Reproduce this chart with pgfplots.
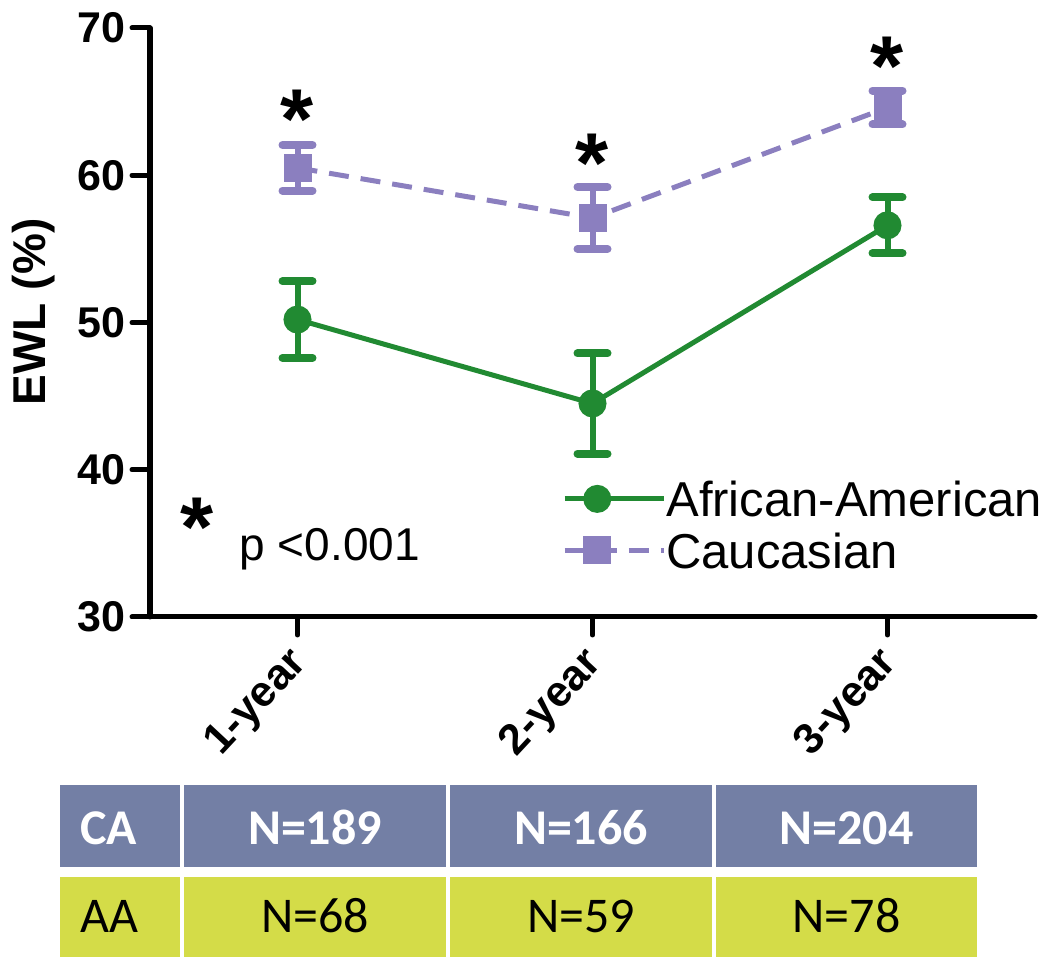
\documentclass[border=0pt]{standalone}
\usepackage{fontspec}
\setmainfont{Liberation Sans}
\newfontfamily\carlito{Carlito}
\usepackage{pgfplots}
\pgfplotsset{compat=1.18}
\definecolor{aagreen}{HTML}{218A32}
\definecolor{capurple}{HTML}{8B7FBF}
\definecolor{cablue}{HTML}{737FA5}
\definecolor{aayellow}{HTML}{D4DC48}
\begin{document}
\begin{tikzpicture}
\useasboundingbox (0pt,0pt) rectangle (1050pt,968pt);
\begin{axis}[
  at={(150pt,351pt)}, anchor=south west,
  scale only axis, width=885pt, height=589pt,
  xmin=0.5, xmax=3.5, ymin=30, ymax=70,
  clip=false,
  axis x line*=bottom, axis y line*=left,
  axis line style={line width=5pt, line cap=round, -},
  xtick={1,2,3}, xticklabels={1-year,2-year,3-year},
  ytick={30,40,50,60,70},
  tick align=outside, major tick length=18pt,
  tick style={line width=5pt, black, line cap=round},
  /pgf/number format/assume math mode=true,
  yticklabel style={font=\bfseries\fontsize{43}{43}\selectfont, inner sep=0pt, xshift=-6pt},
  xticklabel style={font=\bfseries\fontsize{43}{43}\selectfont, xshift=3pt, yshift=-22pt, rotate=47, anchor=east, inner sep=0pt},
  ylabel={EWL (\%)},
  ylabel style={font=\bfseries\fontsize{46}{46}\selectfont, at={(axis description cs:-0.132,0.518)}, anchor=center},
  legend style={at={(axis cs:1.897,39.24)}, anchor=north west, draw=none, fill=none,
     font=\fontsize{49}{49}\selectfont, inner sep=0pt, row sep=16pt,
     nodes={inner sep=0pt, anchor=west, text depth=0pt}},
  legend cell align=left,
  legend image code/.code={
     \draw[mark repeat=2,mark phase=2,#1] plot coordinates {(0pt,0pt) (32.5pt,0pt) (65pt,0pt)};
     \path (0pt,0pt) -- (99pt,0pt);
  },
]
\addplot[aagreen, line width=5pt, mark=*, mark size=11.5pt, mark options={fill=aagreen, solid},
  error bars/.cd, y dir=both, y explicit,
  error bar style={line width=6pt, aagreen, solid},
  error mark options={rotate=90, mark size=15pt, line width=8pt, line cap=round, aagreen}]
  coordinates {(1,50.2) +- (0,2.6) (2,44.5) +- (0,3.4) (3,56.6) +- (0,1.9)};
\addlegendentry{African-American}
\addplot[capurple, line width=5pt, dash pattern=on 20pt off 12pt, mark=square*, mark size=11.5pt, mark options={fill=capurple, solid},
  error bars/.cd, y dir=both, y explicit,
  error bar style={line width=6pt, capurple, solid},
  error mark options={rotate=90, mark size=15pt, line width=8pt, line cap=round, capurple}]
  coordinates {(1,60.5) +- (0,1.55) (2,57.1) +- (0,2.1) (3,64.6) +- (0,1.15)};
\addlegendentry{Caucasian}
\tikzset{star/.style={font=\bfseries\fontsize{85}{85}\selectfont, inner sep=0pt, yshift=-12pt}}
\node[star] at (axis cs:1,64.6) {*};
\node[star] at (axis cs:2,61.6) {*};
\node[star] at (axis cs:3,68.2) {*};
\node[star] at (axis cs:0.659,36.93) {*};
\node[anchor=base west, inner sep=0pt, font=\fontsize{46}{46}\selectfont] at (axis cs:0.803,33.87) {p <0.001};
\end{axis}
% table
\begin{scope}[x=1pt,y=1pt]
\fill[cablue] (60,101) rectangle (180,183);
\fill[cablue] (184,101) rectangle (446,183);
\fill[cablue] (450,101) rectangle (712,183);
\fill[cablue] (716,101) rectangle (977,183);
\fill[aayellow] (60,11) rectangle (180,91);
\fill[aayellow] (184,11) rectangle (446,91);
\fill[aayellow] (450,11) rectangle (712,91);
\fill[aayellow] (716,11) rectangle (977,91);
\begin{scope}[every node/.style={inner sep=0pt}]
\node[anchor=base west, text=white, font=\carlito\bfseries\fontsize{50}{50}\selectfont] at (80,123) {CA};
\node[anchor=base, text=white, font=\carlito\bfseries\fontsize{50}{50}\selectfont] at (315,123) {N=189};
\node[anchor=base, text=white, font=\carlito\bfseries\fontsize{50}{50}\selectfont] at (581,123) {N=166};
\node[anchor=base, text=white, font=\carlito\bfseries\fontsize{50}{50}\selectfont] at (846.5,123) {N=204};
\node[anchor=base west, text=black, font=\carlito\fontsize{50}{50}\selectfont] at (80,35) {AA};
\node[anchor=base, text=black, font=\carlito\fontsize{50}{50}\selectfont] at (315,35) {N=68};
\node[anchor=base, text=black, font=\carlito\fontsize{50}{50}\selectfont] at (581,35) {N=59};
\node[anchor=base, text=black, font=\carlito\fontsize{50}{50}\selectfont] at (846.5,35) {N=78};
\end{scope}
\end{scope}
\end{tikzpicture}
\end{document}
